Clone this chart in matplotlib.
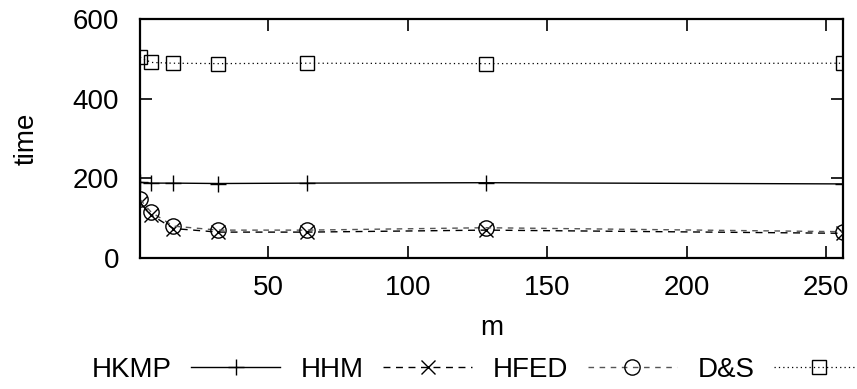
import matplotlib.pyplot as plt
import numpy as np

plt.rcParams['font.family'] = ['Liberation Sans', 'DejaVu Sans']

# === Données ===
m = [4, 8, 16, 32, 64, 128, 256]
hkmp = [190, 188, 188, 187, 188, 189, 186]
hhm = [139, 108, 74, 65, 65, 70, 62]
hfed = [147, 115, 80, 70, 70, 76, 66]
ds = [504, 491, 489, 488, 489, 488, 489]

labels = ["HKMP", "HHM", "HFED", "D&S"]
xticks = [50, 100, 150, 200, 250]
yticks = [0, 200, 400, 600]

fs = 20

fig = plt.figure(figsize=(8.57, 3.89), dpi=100)
ax = fig.add_axes([140 / 857, 1 - 258 / 389, 703 / 857, 239 / 389])

ax.plot(m, hkmp, color="black", lw=1.0, marker="+", ms=12, mew=1.0, label=labels[0])
ax.plot(m, hhm, color="black", lw=1.0, ls=(0, (5, 4)), marker="x", ms=10, mew=1.0, label=labels[1])
ax.plot(m, hfed, color="#555555", lw=1.0, ls=(0, (4, 4)), marker="o", ms=11, mew=1.0,
        mfc="none", mec="black", label=labels[2])
ax.plot(m, ds, color="black", lw=0.9, ls=(0, (1, 2.5)), marker="s", ms=10, mew=1.0,
        mfc="none", mec="black", label=labels[3])

ax.set_xlim(4, 256)
ax.set_ylim(0, 600)
ax.set_xticks(xticks)
ax.set_yticks(yticks)
ax.tick_params(direction="in", length=8.5, width=1.2, top=True, right=True, labelsize=fs)
ax.tick_params(axis="y", pad=15)
ax.tick_params(axis="x", pad=12)
for sp in ax.spines.values():
    sp.set_linewidth(1.6)

ax.set_xlabel("m", fontsize=fs, labelpad=10)
ax.set_ylabel("time", fontsize=fs, labelpad=24)

h, l = ax.get_legend_handles_labels()
fig.legend(h, l, loc="center", bbox_to_anchor=(0.557, 1 - 370 / 389), ncol=4,
           markerfirst=False, frameon=False, fontsize=fs, handlelength=3.2,
           handletextpad=0.7, columnspacing=0.75, numpoints=1, borderpad=0)

fig.savefig("out.png", dpi=100)
